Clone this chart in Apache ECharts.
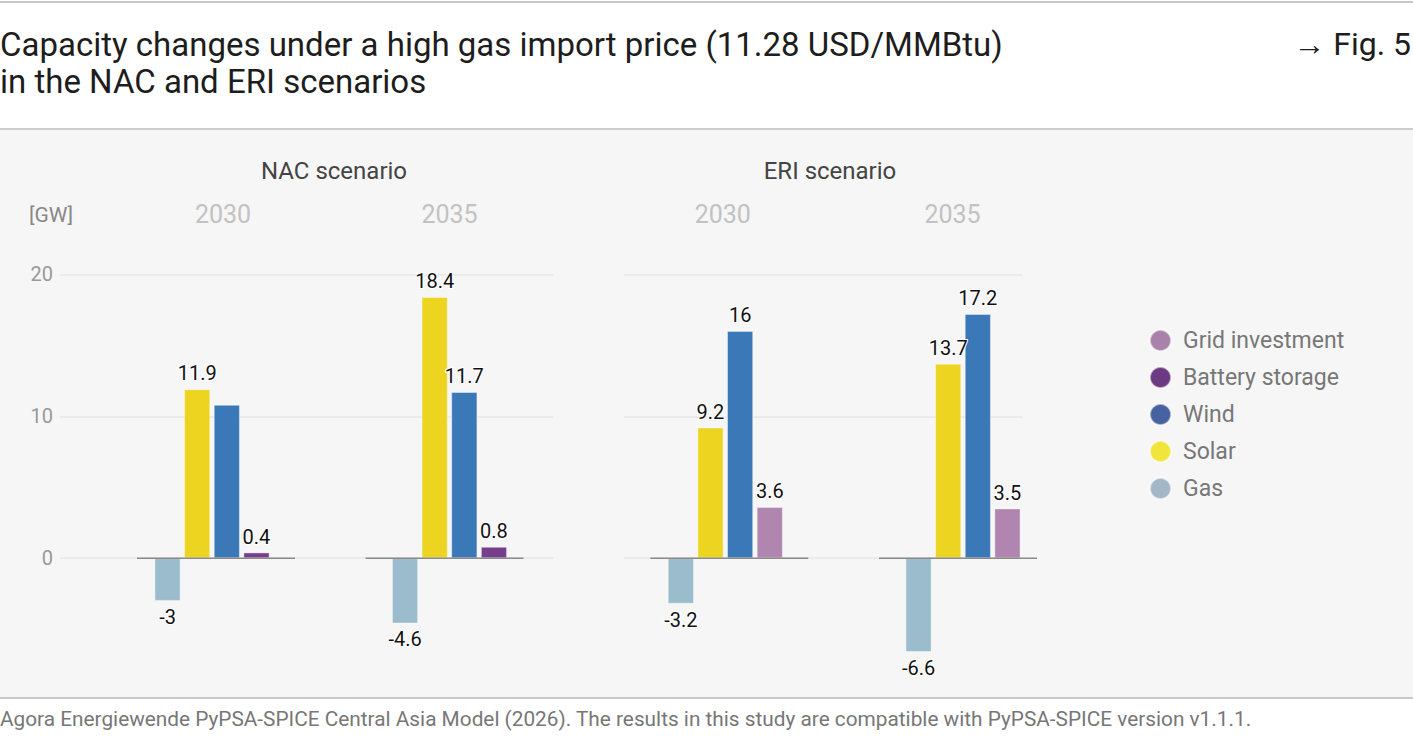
<!DOCTYPE html>
<html>
<head>
<meta charset="utf-8">
<script src="https://cdn.jsdelivr.net/npm/echarts@6/dist/echarts.min.js"></script>
<style>
html,body{margin:0;padding:0;background:#fff;}
#chart{width:1413px;height:741px;}
</style>
</head>
<body>
<div id="chart"></div>
<script>
// ---- data ----
const years = ['2030', '2035'];
const yTicks = [0, 10, 20];
const nacGas = [-3, -4.6];
const nacSolar = [11.9, 18.4];
const nacWind = [10.8, 11.7];
const nacBattery = [0.4, 0.8];
const eriGas = [-3.2, -6.6];
const eriSolar = [9.2, 13.7];
const eriWind = [16, 17.2];
const eriGrid = [3.6, 3.5];
const legendNames = ['Grid investment', 'Battery storage', 'Wind', 'Solar', 'Gas'];

// ---- styles ----
const FONT = 'Roboto, "Noto Sans", sans-serif';
const barColors = { 'Gas': '#9bbccc', 'Solar': '#ecd420', 'Wind': '#3b78b8', 'Battery storage': '#773f8b', 'Grid investment': '#b085af' };
const legendColors = { 'Grid investment': '#a882a8', 'Battery storage': '#6b3a82', 'Wind': '#4762a0', 'Solar': '#f1e43a', 'Gas': '#a3b7c7' };

const chart = echarts.init(document.getElementById('chart'), null, { renderer: 'svg' });

const Y_MIN = -10, Y_MAX = 20, TOP = 274.3, BOTTOM = 40.85;

function yAx(gridIndex, showLabels) {
  return {
    type: 'value', gridIndex, min: Y_MIN, max: Y_MAX, interval: 10,
    axisLine: { show: false }, axisTick: { show: false },
    axisLabel: {
      show: showLabels, margin: 7, fontFamily: FONT, fontSize: 20, color: '#999',
      formatter: v => (yTicks.indexOf(v) >= 0 ? String(v) : '')
    },
    splitLine: { show: true, lineStyle: { color: ['transparent', '#ebebeb', '#ebebeb', '#ebebeb'], width: 2 } }
  };
}

function labelCfg(pos) {
  return {
    show: true, position: pos, distance: 6, fontFamily: FONT, fontSize: 20, color: '#111',
    textBorderColor: '#ffffff', textBorderWidth: 2
  };
}

function barSeries(name, data, axisIdx, pos, hideIdx) {
  return {
    type: 'bar', name, xAxisIndex: axisIdx, yAxisIndex: axisIdx,
    barWidth: 26, barGap: '14%',
    itemStyle: { color: barColors[name], borderColor: 'rgba(255,255,255,0.5)', borderWidth: 0.8 },
    label: labelCfg(pos),
    data: data.map((v, i) => (hideIdx === i ? { value: v, label: { show: false } } : v)),
    z: 2
  };
}

// baseline offsets (px) relative to category centre, per category
const baseOff = [[-75, 83], [-84, 74]];
function baseline(axisIdx) {
  return {
    type: 'custom', xAxisIndex: axisIdx, yAxisIndex: axisIdx, silent: true, z: 5,
    data: years.map(y => [y, 0]),
    renderItem: function (params, api) {
      const p = api.coord([api.value(0), 0]);
      const o = baseOff[params.dataIndex];
      return { type: 'line', shape: { x1: p[0] + o[0], y1: p[1], x2: p[0] + o[1], y2: p[1] },
        style: { stroke: '#8a8a8a', lineWidth: 1.5 } };
    }
  };
}

// per-label horizontal padding [left, right] to fine-tune the year label positions
function xCat(gridIndex, pads) {
  const rich = {};
  pads.forEach((p, i) => {
    rich['y' + i] = { fontFamily: FONT, fontSize: 25, color: '#c2c2c2', padding: [0, p[1], 0, p[0]] };
  });
  return {
    type: 'category', gridIndex, data: years, position: 'top',
    axisLine: { show: false }, axisTick: { show: false },
    axisLabel: {
      margin: 47, fontFamily: FONT, fontSize: 25, color: '#c2c2c2', rich,
      formatter: (v, i) => '{y' + i + '|' + v + '}'
    }
  };
}

const option = {
  backgroundColor: '#ffffff',
  animation: false,
  graphic: [
    { type: 'rect', shape: { x: 0, y: 130, width: 1413, height: 568 }, style: { fill: '#f6f6f6' }, z: -10 },
    { type: 'line', shape: { x1: 0, y1: 2, x2: 1413, y2: 2 }, style: { stroke: '#c8c8c8', lineWidth: 2 } },
    { type: 'line', shape: { x1: 0, y1: 129, x2: 1413, y2: 129 }, style: { stroke: '#cccccc', lineWidth: 2 } },
    { type: 'line', shape: { x1: 0, y1: 698, x2: 1413, y2: 698 }, style: { stroke: '#c8c8c8', lineWidth: 2 } },
    { type: 'text', x: 0, y: 44, style: { text: 'Capacity changes under a high gas import price (11.28 USD/MMBtu)', font: '33px ' + FONT, fill: '#1d1d1d', align: 'left', verticalAlign: 'middle', textAlign: 'left', textVerticalAlign: 'middle' } },
    { type: 'text', x: 0, y: 81, style: { text: 'in the NAC and ERI scenarios', font: '33px ' + FONT, fill: '#1d1d1d', align: 'left', verticalAlign: 'middle', textAlign: 'left', textVerticalAlign: 'middle' } },
    { type: 'text', x: 1411, y: 44, style: { text: '\u2192 Fig. 5', font: '32px ' + FONT, fill: '#1d1d1d', align: 'right', verticalAlign: 'middle', textAlign: 'right', textVerticalAlign: 'middle' } },
    { type: 'text', x: 334, y: 171, style: { text: 'NAC scenario', font: '24px ' + FONT, fill: '#444', align: 'center', verticalAlign: 'middle', textAlign: 'center', textVerticalAlign: 'middle' } },
    { type: 'text', x: 830, y: 171, style: { text: 'ERI scenario', font: '24px ' + FONT, fill: '#444', align: 'center', verticalAlign: 'middle', textAlign: 'center', textVerticalAlign: 'middle' } },
    { type: 'text', x: 51, y: 215, style: { text: '[GW]', font: '21px ' + FONT, fill: '#888', align: 'center', verticalAlign: 'middle', textAlign: 'center', textVerticalAlign: 'middle' } },
    { type: 'text', x: 0, y: 719, style: { text: 'Agora Energiewende PyPSA-SPICE Central Asia Model (2026). The results in this study are compatible with PyPSA-SPICE version v1.1.1.', font: '20.8px ' + FONT, fill: '#777', align: 'left', verticalAlign: 'middle', textAlign: 'left', textVerticalAlign: 'middle' } }
  ],
  legend: {
    orient: 'vertical', left: 1144, top: 324, itemWidth: 21, itemHeight: 21, itemGap: 14, icon: 'circle',
    selectedMode: false,
    textStyle: { fontFamily: FONT, fontSize: 23, color: '#777', padding: [0, 0, 0, 7] },
    data: legendNames.map(n => ({ name: n, itemStyle: { color: legendColors[n] } }))
  },
  grid: [
    { left: 60, right: 860, top: TOP, bottom: BOTTOM },        // NAC gridlines
    { left: 624, right: 391, top: TOP, bottom: BOTTOM },       // ERI gridlines
    { left: 93.25, right: 844.75, top: TOP, bottom: BOTTOM },  // NAC bars
    { left: 606.45, right: 331.15, top: TOP, bottom: BOTTOM }  // ERI bars
  ],
  xAxis: [
    { type: 'value', gridIndex: 0, show: false, min: 0, max: 1 },
    { type: 'value', gridIndex: 1, show: false, min: 0, max: 1 },
    xCat(2, [[22, 0], [0, 0]]),
    xCat(3, [[0, 5], [0, 21]])
  ],
  yAxis: [
    yAx(0, true), yAx(1, false),
    Object.assign(yAx(2, false), { splitLine: { show: false } }),
    Object.assign(yAx(3, false), { splitLine: { show: false } })
  ],
  series: [
    barSeries('Gas', nacGas, 2, 'bottom'),
    barSeries('Solar', nacSolar, 2, 'top'),
    barSeries('Wind', nacWind, 2, 'top', 0),
    barSeries('Battery storage', nacBattery, 2, 'top'),
    barSeries('Gas', eriGas, 3, 'bottom'),
    barSeries('Solar', eriSolar, 3, 'top'),
    barSeries('Wind', eriWind, 3, 'top'),
    barSeries('Grid investment', eriGrid, 3, 'top'),
    baseline(2), baseline(3)
  ]
};
chart.setOption(option);
</script>
</body>
</html>
